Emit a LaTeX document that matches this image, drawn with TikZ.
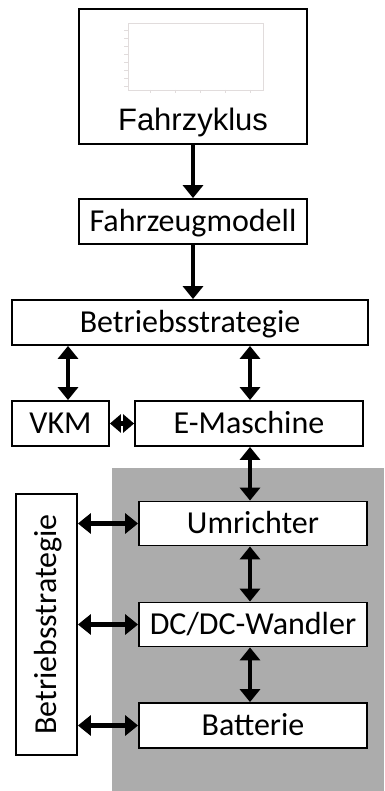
\documentclass[tikz,border=0pt]{standalone}
\usepackage{fontspec}
\setmainfont{Carlito}
\newfontfamily\arialfont{Liberation Sans}
\usetikzlibrary{arrows.meta}
\definecolor{bggray}{RGB}{172,172,172}
\definecolor{plotgray}{RGB}{225,220,220}
\begin{document}
\begin{tikzpicture}[x=1pt,y=-1pt,
  blk/.style={draw=black,line width=1.8pt,fill=white,inner sep=0pt,
    font=\fontsize{32}{32}\selectfont,text height=20pt,text depth=0pt,align=center},
  arr/.style={line width=4.4pt,{Triangle[width=20pt,length=13pt]}-{Triangle[width=20pt,length=13pt]}},
  arrone/.style={line width=4.4pt,-{Triangle[width=20pt,length=13pt]}}]
\useasboundingbox (0,0) rectangle (384,791);
\fill[white] (0,0) rectangle (384,791);
\fill[bggray] (112,468) rectangle (384,791);

% Fahrzyklus box with faint plot
\node[draw=black,line width=2.2pt,fill=white,minimum width=228pt,minimum height=135pt,inner sep=0pt] (fz) at (193,76.5) {};
\draw[plotgray,line width=0.6pt] (128,23) rectangle (263,90);
\foreach \yy in {30,38,46,54,62,70,78,86}{\draw[plotgray,line width=0.5pt] (124,\yy) -- (128,\yy);}
\foreach \xx in {150,175,200,225,250}{\draw[plotgray,line width=0.5pt] (\xx,90) -- (\xx,93);}
\node[font=\arialfont\fontsize{31}{31}\selectfont,anchor=base,inner sep=0pt] (fzt) at (193,131) {Fahrzyklus};

\node[blk,minimum width=228pt,minimum height=45pt] (fm) at (193,221.5) {Fahrzeugmodell};
\node[blk,minimum width=356pt,minimum height=45pt] (bs) at (190,322.5) {Betriebsstrategie};
\node[blk,minimum width=97pt,minimum height=45pt] (vkm) at (60.5,423.5) {VKM};
\node[blk,minimum width=228pt,minimum height=45pt] (em) at (249,423.5) {E-Maschine};
\node[blk,minimum width=228pt,minimum height=44pt] (um) at (253,523.5) {Umrichter};
\node[blk,minimum width=228pt,minimum height=44pt] (dc) at (253,624.5) {DC/DC-Wandler};
\node[blk,minimum width=228pt,minimum height=45pt] (bat) at (253,725.5) {Batterie};
\node[blk,minimum width=61pt,minimum height=261pt] (bs2) at (46.5,624.5) {};
\node[font=\fontsize{32}{32}\selectfont,rotate=90,inner sep=0pt,text height=20pt,text depth=0pt] (bs2t) at (bs2.center) {Betriebsstrategie};

% connectors
\draw[arrone] (fz.south) -- (fm.north);
\draw[arrone] (fm.south) -- (bs.north -| fm.south);
\draw[arr] (bs.south -| 68,0) -- (vkm.north -| 68,0);
\draw[arr] (bs.south -| 250,0) -- (em.north -| 250,0);
\draw[line width=4.4pt,{Triangle[width=18pt,length=11pt]}-{Triangle[width=18pt,length=11pt]}] (vkm.east) -- (em.west);
\draw[arr] (em.south -| 250,0) -- (um.north -| 250,0);
\draw[arr] (um.south -| 250,0) -- (dc.north -| 250,0);
\draw[arr] (dc.south -| 250,0) -- (bat.north -| 250,0);
\draw[arr] (bs2.east |- um.west) -- (um.west);
\draw[arr] (bs2.east |- dc.west) -- (dc.west);
\draw[arr] (bs2.east |- bat.west) -- (bat.west);
\end{tikzpicture}
\end{document}
